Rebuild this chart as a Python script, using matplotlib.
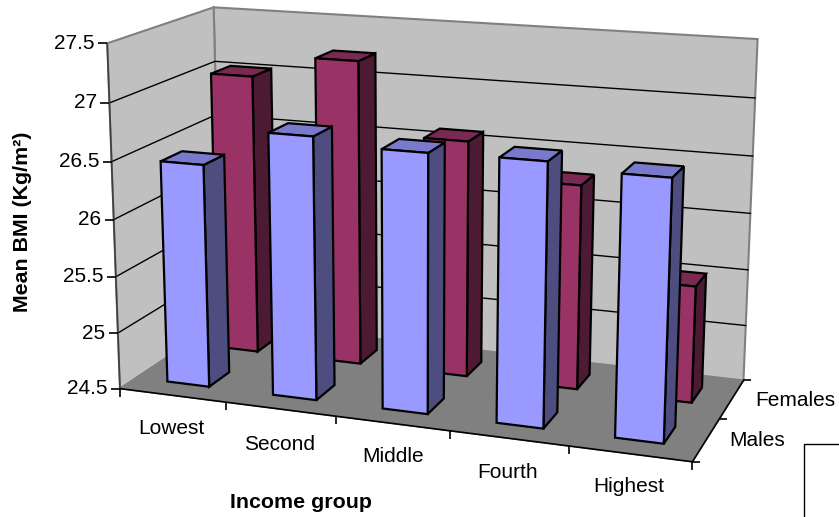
import numpy as np
import matplotlib
matplotlib.use("Agg")
import matplotlib.pyplot as plt
from matplotlib.patches import Polygon, Rectangle

plt.rcParams["font.family"] = ["Liberation Sans", "DejaVu Sans"]

# Mean BMI by income group and sex
income_groups = ["Lowest", "Second", "Middle", "Fourth", "Highest"]
series_names = ["Males", "Females"]
males = [26.46, 26.78, 26.72, 26.73, 26.68]
females = [27.03, 27.23, 26.60, 26.30, 25.52]
z_ticks = [24.5, 25, 25.5, 26, 26.5, 27, 27.5]
z_tick_labels = ["24.5", "25", "25.5", "26", "26.5", "27", "27.5"]

# Box anchors: (category, series, value) -> canvas pixel, used to fit the camera
box_world = [(0, 0, 27.5), (0, 0, 24.5), (0, 2, 27.5), (0, 2, 24.5),
             (5, 2, 27.5), (5, 2, 24.5), (5, 0, 24.5), (0, 0, 27.0), (1, 0, 24.5)]
box_canvas = [(106.5, 43), (120.5, 388.5), (214.5, 8), (220, 321),
              (757.5, 39), (744, 380), (691.7, 462.3), (109.3, 102.5), (226.7, 402.5)]


def fit_camera(world, canvas):
    rows = []
    for (x, y, z), (u, v) in zip(world, canvas):
        p = [x, y, z, 1]
        rows.append(p + [0, 0, 0, 0] + [-u * c for c in p])
        rows.append([0, 0, 0, 0] + p + [-v * c for c in p])
    return np.linalg.svd(np.array(rows, float))[2][-1].reshape(3, 4)


CAM = fit_camera(box_world, box_canvas)


def proj(x, y, z):
    h = CAM @ np.array([x, y, z, 1.0])
    return h[0] / h[2], h[1] / h[2]


fig = plt.figure(figsize=(8.39, 5.17), dpi=100)
ax = fig.add_axes([0, 0, 1, 1])
ax.set_xlim(0, 839)
ax.set_ylim(517, 0)
ax.axis("off")

Z0, Z1 = z_ticks[0], z_ticks[-1]
N = len(income_groups)
M = len(series_names)


def face(points, fc, ec, lw=1.0, z=1):
    ax.add_patch(Polygon([proj(*p) for p in points], closed=True, fc=fc, ec=ec, lw=lw,
                         joinstyle="miter", zorder=z))


# Walls and floor
face([(0, M, Z0), (N, M, Z0), (N, M, Z1), (0, M, Z1)], "#C0C0C0", "#808080", 1.5, 1)
face([(0, 0, Z0), (0, M, Z0), (0, M, Z1), (0, 0, Z1)], "#C0C0C0", "#808080", 1.5, 1)
face([(0, 0, Z0), (N, 0, Z0), (N, M, Z0), (0, M, Z0)], "#808080", "#808080", 1.0, 2)

# Gridlines on both walls
for t in z_ticks[1:-1]:
    pts = [proj(0, 0, t), proj(0, M, t), proj(N, M, t)]
    ax.plot(*zip(*pts), color="black", lw=1.0, zorder=3)

# Axis lines
axis_kw = dict(color="black", lw=1.2, zorder=4, solid_capstyle="butt")
ax.plot(*zip(proj(0, 0, Z0), proj(0, 0, Z1)), **dict(axis_kw, color="#404040"))
ax.plot(*zip(proj(0, 0, Z0), proj(N, 0, Z0)), **axis_kw)
ax.plot(*zip(proj(N, 0, Z0), proj(N, M, Z0)), **axis_kw)

# Tick marks
for t, lab in zip(z_ticks, z_tick_labels):
    u, v = proj(0, 0, t)
    ax.plot([u - 9, u], [v, v], **axis_kw)
    ax.text(u - 12.5, v, lab, ha="right", va="center", fontsize=15, color="black")
for i in range(N + 1):
    u, v = proj(i, 0, Z0)
    ax.plot([u, u], [v, v + 8], **axis_kw)
for j in range(M + 1):
    u, v = proj(N, j, Z0)
    ax.plot([u, u + 8], [v, v], **axis_kw)

# Bars: gap width 150 % along both horizontal directions
BAR = 0.4
PAD = (1 - BAR) / 2
palettes = {0: ("#9999FF", "#4D4D80", "#7A7ACC"), 1: ("#993366", "#4D1A33", "#7A2952")}
edge = "black"
zo = 10
for j, vals in [(1, females), (0, males)]:
    front, side, top = palettes[j]
    for i, val in enumerate(vals):
        x0, x1 = i + PAD, i + PAD + BAR
        y0, y1 = j + PAD, j + PAD + BAR
        face([(x1, y0, Z0), (x1, y1, Z0), (x1, y1, val), (x1, y0, val)], side, edge, 1.6, zo)
        face([(x0, y0, val), (x1, y0, val), (x1, y1, val), (x0, y1, val)], top, edge, 1.6, zo)
        face([(x0, y0, Z0), (x1, y0, Z0), (x1, y0, val), (x0, y0, val)], front, edge, 1.6, zo)
        zo += 1

# Category and series labels
cat_pos = [(171, 428), (280, 444), (393, 456), (508, 472), (629, 487)]
for name, (u, v) in zip(income_groups, cat_pos):
    ax.text(u, v, name, ha="center", va="center", fontsize=15)
ser_pos = [(757, 440), (795, 400)]
for name, (u, v) in zip(series_names, ser_pos):
    ax.text(u, v, name, ha="center", va="center", fontsize=15)

ax.text(301, 503, "Income group", ha="center", va="center", fontsize=15.4, fontweight="bold")
ax.text(23, 222, "Mean BMI (Kg/m²)", ha="center", va="center", rotation=90,
        fontsize=15.4, fontweight="bold")

# Corner of the key box running off the canvas
ax.add_patch(Rectangle((803.5, 443.5), 60, 100, fc="white", ec="black", lw=1.0, zorder=30,
                       clip_on=True))

fig.savefig("out.png", dpi=100)
